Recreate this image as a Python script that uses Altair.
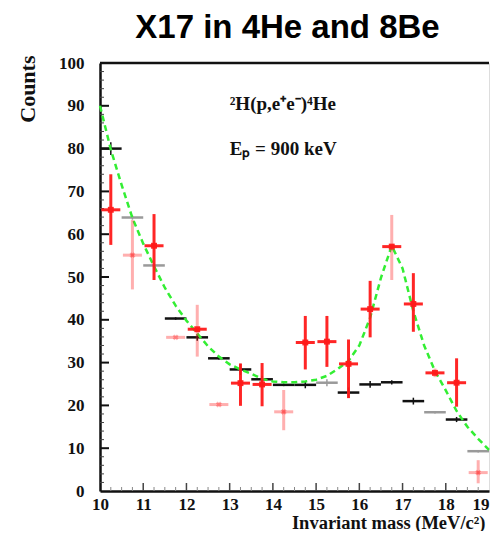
import altair as alt
import pandas as pd

# ---- data ----
bins = [10.25, 10.75, 11.25, 11.75, 12.25, 12.75, 13.25, 13.75, 14.25,
        14.75, 15.25, 15.75, 16.25, 16.75, 17.25, 17.75, 18.25, 18.75]
half_width = 0.25

mc_counts = [80.0, 63.9, 52.7, 40.3, 35.9, 31.0, 28.4, 26.1, 24.8,
             24.8, 25.3, 23.0, 24.9, 25.4, 21.0, 18.4, 16.7, 9.3]
mc_err = [1.5, 0.5, 0.5, 0.3, 0.8, 0.3, 1.3, 0.8, 0.3,
          0.8, 0.8, 1.2, 0.8, 0.5, 0.8, 0.3, 0.6, 0.3]
mc_grey_bins = [10.75, 11.25, 15.25, 17.75, 18.75]

data_counts = [65.7, 55.1, 57.3, 35.9, 37.8, 20.2, 25.2, 24.9, 18.5,
               34.7, 34.9, 29.7, 42.5, 57.1, 43.7, 27.6, 25.3, 4.3]
data_lo = [57.5, 47.1, 49.3, 35.9, 31.4, 20.2, 19.9, 19.8, 14.2,
           28.4, 29.0, 21.7, 35.9, 49.3, 37.2, 26.6, 19.7, 1.8]
data_hi = [74.0, 63.3, 64.7, 35.9, 43.5, 20.2, 29.8, 29.9, 23.6,
           40.9, 40.9, 35.4, 49.1, 64.5, 50.9, 28.6, 31.0, 7.2]
faint_err_bins = [10.75, 11.75, 12.25, 12.75, 14.25, 16.75, 17.75, 18.75]
faint_marker_bins = [10.75, 11.75, 12.75, 14.25, 18.75]
cross_marker_bins = [10.75, 11.75, 12.75, 14.25, 18.75]

fit_x = [10.0, 10.25, 10.5, 10.75, 11.0, 11.25, 11.5, 11.75, 12.0, 12.25,
         12.5, 12.75, 13.0, 13.25, 13.5, 13.75, 14.0, 14.25, 14.5, 14.75,
         15.0, 15.25, 15.5, 15.75, 16.0, 16.25, 16.5, 16.75, 17.0, 17.25,
         17.5, 17.75, 18.0, 18.25, 18.5, 18.75, 19.0]
fit_y = [90.0, 79.8, 71.5, 63.8, 57.8, 52.5, 47.5, 43.3, 39.8, 36.8,
         33.8, 31.4, 29.6, 28.4, 27.4, 26.2, 25.6, 25.4, 25.4, 25.6,
         26.0, 26.9, 28.5, 30.4, 34.0, 40.5, 49.8, 57.3, 52.0, 42.0,
         34.0, 28.0, 23.5, 18.7, 15.0, 12.2, 9.6]

y_major = [10, 20, 30, 40, 50, 60, 70, 80, 90]
y_minor = [2, 4, 6, 8, 12, 14, 16, 18, 22, 24, 26, 28, 32, 34, 36, 38,
           42, 44, 46, 48, 52, 54, 56, 58, 62, 64, 66, 68, 72, 74, 76, 78,
           82, 84, 86, 88, 92, 94, 96, 98]
x_major = [11, 12, 13, 14, 15, 16, 17, 18]
x_minor = [10.25, 10.5, 10.75, 11.25, 11.5, 11.75, 12.25, 12.5, 12.75,
           13.25, 13.5, 13.75, 14.25, 14.5, 14.75, 15.25, 15.5, 15.75,
           16.25, 16.5, 16.75, 17.25, 17.5, 17.75, 18.25, 18.5, 18.75]

annot_x = [13.0, 13.0]
annot_y = [90.5, 80.0]
annot_text = ["²H(p,e⁺e⁻)⁴He", "Eₚ = 900 keV"]

# ---- tables ----
W, H = 389, 428
mc = pd.DataFrame({"m": bins, "c": mc_counts, "e": mc_err})
mc["x0"] = mc["m"] - half_width
mc["x1"] = mc["m"] + half_width
mc["lo"] = mc["c"] - mc["e"]
mc["hi"] = mc["c"] + mc["e"]
mc["tone"] = ["grey" if b in mc_grey_bins else "black" for b in bins]

dd = pd.DataFrame({"m": bins, "c": data_counts, "lo": data_lo, "hi": data_hi})
dd["x0"] = dd["m"] - 0.22
dd["x1"] = dd["m"] + 0.22
dd["errtone"] = ["faint" if b in faint_err_bins else "strong" for b in bins]
dd["mtone"] = ["faint" if b in faint_marker_bins else "strong" for b in bins]
dd["shape"] = ["cross" if b in cross_marker_bins else "square" for b in bins]

fit = pd.DataFrame({"m": fit_x, "c": fit_y})
annot = pd.DataFrame({"m": annot_x, "c": annot_y, "t": annot_text})

xs = alt.Scale(domain=[10, 19], nice=False, zero=False)
ys = alt.Scale(domain=[0, 100], nice=False)

x_axis = alt.Axis(values=list(range(10, 20)), title="Invariant mass (MeV/c²)",
                  ticks=False, grid=False, labelPadding=5, labelFlush=False,
                  labelAlign=alt.condition("datum.value >= 19",
                                           alt.value("right"),
                                           alt.value("center")),
                  titleX=W - 4, titleY=31, titleAnchor="end", titleAlign="right",
                  titleBaseline="middle", titleFontSize=18.5)
y_axis = alt.Axis(values=list(range(0, 101, 10)), title="Counts", ticks=False,
                  grid=False, labelPadding=16, titleAngle=-90, titleX=-73,
                  titleY=-8, titleAlign="right", titleBaseline="middle",
                  titleFontSize=22)

X = alt.X("m:Q", scale=xs, axis=x_axis)
Y = alt.Y("c:Q", scale=ys, axis=y_axis)

tone_scale = alt.Scale(domain=["black", "grey"], range=["#111111", "#9a9a9a"])
mc_h = alt.Chart(mc).mark_rule(strokeWidth=2.5).encode(
    x=alt.X("x0:Q", scale=xs, axis=x_axis), x2="x1:Q",
    y=alt.Y("c:Q", scale=ys, axis=y_axis),
    color=alt.Color("tone:N", scale=tone_scale, legend=None))
mc_v = alt.Chart(mc).mark_rule(strokeWidth=1.5).encode(
    x="m:Q", y="lo:Q", y2="hi:Q",
    color=alt.Color("tone:N", scale=tone_scale, legend=None))

fit_line = alt.Chart(fit).mark_line(color="#33ee33", strokeWidth=2.5,
                                    strokeDash=[6, 4]).encode(x=X, y=Y)

op_scale = alt.Scale(domain=["strong", "faint"], range=[0.95, 0.35])
err_v = alt.Chart(dd).mark_rule(color="#ff1a1a", strokeWidth=3).encode(
    x="m:Q", y="lo:Q", y2="hi:Q",
    opacity=alt.Opacity("errtone:N", scale=op_scale, legend=None))
err_h = alt.Chart(dd).mark_rule(color="#ff1a1a", strokeWidth=3).encode(
    x="x0:Q", x2="x1:Q", y="c:Q",
    opacity=alt.Opacity("mtone:N", scale=op_scale, legend=None))
marks = alt.Chart(dd).mark_point(color="#ff1a1a", filled=True, size=35,
                                 strokeWidth=2).encode(
    x="m:Q", y="c:Q",
    shape=alt.Shape("shape:N", scale=alt.Scale(domain=["square", "cross"],
                                               range=["square", "cross"]),
                    legend=None),
    angle=alt.condition(alt.datum.shape == "cross", alt.value(45), alt.value(0)),
    opacity=alt.Opacity("mtone:N", scale=op_scale, legend=None))

txt = alt.Chart(annot).mark_text(align="left", baseline="middle",
                                 font="Liberation Serif", fontWeight="bold",
                                 fontSize=19, color="#111111").encode(
    x="m:Q", y="c:Q", text="t:N")

# inward ticks and frame
ymaj = alt.Chart(pd.DataFrame({"v": y_major})).mark_rule(
    color="#111111", strokeWidth=2).encode(y=alt.Y("v:Q", scale=ys),
                                           x=alt.value(0), x2=alt.value(9))
ymin = alt.Chart(pd.DataFrame({"v": y_minor})).mark_rule(
    color="#444444", strokeWidth=1).encode(y=alt.Y("v:Q", scale=ys),
                                           x=alt.value(0), x2=alt.value(4))
xmaj = alt.Chart(pd.DataFrame({"v": x_major})).mark_rule(
    color="#444444", strokeWidth=1.5).encode(x=alt.X("v:Q", scale=xs),
                                             y=alt.value(H), y2=alt.value(H - 8))
xmin = alt.Chart(pd.DataFrame({"v": x_minor})).mark_rule(
    color="#888888", strokeWidth=1).encode(x=alt.X("v:Q", scale=xs),
                                           y=alt.value(H), y2=alt.value(H - 4))
top_frame = alt.Chart(pd.DataFrame({"v": [100]})).mark_rule(
    color="#111111", strokeWidth=2.5).encode(y=alt.Y("v:Q", scale=ys),
                                             x=alt.value(0), x2=alt.value(W))

chart = alt.layer(
    ymin, ymaj, xmin, xmaj, mc_h, mc_v, fit_line, err_v, err_h, marks, txt,
    top_frame
).properties(
    width=W, height=H,
    padding={"left": 92, "top": 55, "right": 1, "bottom": 40},
    autosize=alt.AutoSizeParams(type="none"),
    title=alt.TitleParams("X17 in 4He and 8Be", font="Liberation Sans",
                          fontWeight="bold", fontSize=33, color="#000000",
                          anchor="middle", dx=-7, offset=9),
).configure_view(
    stroke="#dddddd", strokeWidth=1
).configure_axis(
    labelFont="Liberation Serif", labelFontWeight="bold", labelFontSize=17,
    labelColor="#111111", titleFont="Liberation Serif", titleFontWeight="bold",
    titleFontSize=18, titleColor="#111111", domainColor="#111111",
    domainWidth=2.5, labelOverlap=False
)

chart.save("out.html", embed_options={"renderer": "svg", "actions": False})
